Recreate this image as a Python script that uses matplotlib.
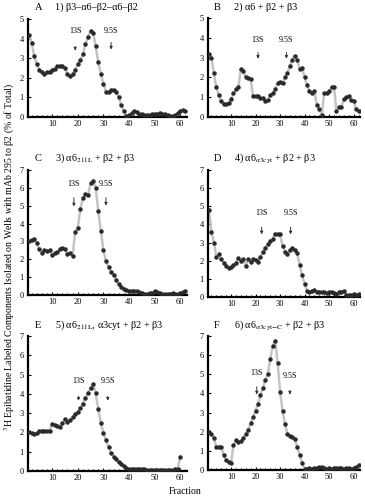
import numpy as np
import matplotlib
matplotlib.use('Agg')
import matplotlib.pyplot as plt
from matplotlib.ticker import MultipleLocator

plt.rcParams['font.family'] = ['Liberation Serif', 'DejaVu Serif']
plt.rcParams['mathtext.fontset'] = 'stix'

# values (% of total), fraction 1, 2, 3, ...
panel_a = [4.2, 3.8, 3.1, 2.7, 2.4, 2.3, 2.2, 2.3, 2.3, 2.4, 2.45, 2.6, 2.6, 2.6, 2.5,
           2.2, 2.1, 2.2, 2.4, 2.7, 2.9, 3.2, 3.7, 4.1, 4.4, 4.3, 3.6, 2.8, 2.2, 1.7,
           1.3, 1.3, 1.4, 1.4, 1.3, 1.0, 0.6, 0.3, 0.05, 0.1, 0.2, 0.3, 0.25, 0.15, 0.15,
           0.1, 0.1, 0.1, 0.15, 0.15, 0.15, 0.2, 0.15, 0.15, 0.1, 0.05, 0.05, 0.1, 0.2, 0.3,
           0.35, 0.3]
panel_b = [3.2, 3.0, 2.2, 1.5, 1.1, 0.8, 0.65, 0.65, 0.7, 0.9, 1.2, 1.4, 1.5, 2.4, 2.3,
           2.0, 1.95, 1.9, 1.05, 1.05, 1.05, 0.95, 0.95, 0.8, 0.85, 1.1, 1.2, 1.4, 1.7, 1.75,
           1.7, 2.0, 2.2, 2.6, 2.9, 3.1, 2.9, 2.4, 2.5, 2.0, 1.6, 1.3, 1.2, 1.3, 0.6,
           0.4, 0.1, 1.2, 1.2, 1.3, 1.5, 1.5, 0.3, 0.5, 0.5, 0.9, 1.0, 1.05, 0.85, 0.8,
           0.4, 0.3]
panel_c = [3.0, 3.1, 3.15, 2.9, 2.55, 2.35, 2.5, 2.45, 2.5, 2.25, 2.35, 2.4, 2.6, 2.65, 2.6,
           2.3, 2.35, 2.2, 3.55, 3.75, 4.8, 5.45, 5.65, 5.6, 6.25, 6.4, 6.0, 4.7, 3.6, 2.5,
           1.9, 1.55, 1.3, 1.1, 0.85, 0.6, 0.45, 0.35, 0.3, 0.25, 0.25, 0.2, 0.2, 0.15, 0.1,
           0.05, 0.05, 0.1, 0.1, 0.2, 0.15, 0.1, 0.05, 0.05, 0.05, 0.05, 0.1, 0.05, 0.05, 0.1,
           0.15, 0.2]
panel_d = [4.8, 3.6, 3.0, 2.2, 2.35, 2.1, 1.9, 1.7, 1.6, 1.65, 1.75, 1.9, 2.15, 2.0, 2.1,
           1.7, 2.1, 1.95, 2.1, 2.05, 1.95, 2.2, 2.5, 2.7, 2.9, 3.1, 3.2, 3.5, 3.45, 3.45,
           2.8, 2.5, 2.35, 2.6, 2.7, 2.6, 2.4, 1.75, 1.2, 0.7, 0.35, 0.3, 0.35, 0.4, 0.3,
           0.3, 0.25, 0.25, 0.2, 0.25, 0.3, 0.2, 0.15, 0.25, 0.3, 0.35, 0.1, 0.1, 0.1, 0.15,
           0.1, 0.15]
panel_e = [2.0, 1.95, 1.9, 1.95, 2.05, 2.1, 2.1, 2.05, 2.1, 2.45, 2.4, 2.35, 2.3, 2.5, 2.7,
           2.55, 2.65, 2.8, 2.95, 3.05, 3.25, 3.5, 3.8, 4.05, 4.3, 4.5, 4.05, 3.2, 2.5, 1.95,
           1.6, 1.25, 0.95, 0.75, 0.6, 0.45, 0.35, 0.25, 0.15, 0.1, 0.1, 0.1, 0.1, 0.1, 0.1,
           0.1, 0.05, 0.05, 0.05, 0.05, 0.05, 0.05, 0.05, 0.05, 0.05, 0.05, 0.05, 0.1, 0.1, 0.75]
panel_f = [2.0, 1.9, 1.65, 1.2, 1.2, 1.2, 0.8, 0.5, 0.4, 0.35, 1.3, 1.55, 1.45, 1.5, 1.65,
           1.9, 2.1, 2.45, 2.75, 3.1, 3.45, 3.9, 4.3, 4.7, 5.0, 5.8, 6.5, 6.75, 5.6, 4.1,
           3.1, 2.4, 1.9, 1.8, 1.75, 1.6, 1.2, 0.8, 0.35, 0.05, 0.05, 0.1, 0.05, 0.1, 0.1,
           0.15, 0.15, 0.1, 0.05, 0.1, 0.05, 0.1, 0.1, 0.1, 0.1, 0.05, 0.1, 0.1, 0.05, 0.1,
           0.15, 0.25]

letters = ['A', 'B', 'C', 'D', 'E', 'F']
titles = ['1) β3–α6–β2–α6–β2',
          '2) α6 + β2 + β3',
          r'3) α6$_{\mathrm{211L}}$ + β2 + β3',
          r'4) α6$_{\alpha\mathrm{3cyt}}$ + β2 + β3',
          r'5) α6$_{\mathrm{211L}}$, α3cyt + β2 + β3',
          r'6) α6$_{\alpha\mathrm{3cyt{-}C}}$ + β2 + β3']
ymax = [5, 5, 7, 7, 7, 7]
# sedimentation markers: (fraction, text height, arrow top, arrow tip)
mark_13s = [(19, 4.2, 3.6, 3.4), (21, 3.7, 3.4, 2.8), (18.5, 6.0, 5.6, 4.8),
            (22.5, 4.4, 4.0, 3.3), (20.3, 4.45, 4.0, 3.5), (20.5, 4.85, 4.5, 3.8)]
mark_95s = [(33, 4.2, 3.95, 3.3), (32.6, 3.7, 3.4, 2.8), (31, 6.0, 5.6, 4.85),
            (34.3, 4.4, 4.0, 3.3), (31.7, 4.45, 4.0, 3.5), (34, 4.7, 4.15, 3.95)]

W, H = 365, 500
# axes boxes in pixels: left, top, width, height
boxes = [(28, 19, 159, 98), (208, 18, 152, 99),
         (28, 170, 159, 125), (208, 170, 152, 127),
         (28, 336, 159, 135), (208, 336, 152, 134)]
title_y = [7, 7, 158, 158, 325, 325]

fig = plt.figure(figsize=(3.65, 5), dpi=100)
series = [panel_a, panel_b, panel_c, panel_d, panel_e, panel_f]

for i, vals in enumerate(series):
    l, t, w, h = boxes[i]
    ax = fig.add_axes([l / W, 1 - (t + h) / H, w / W, h / H])
    frac = np.arange(1, len(vals) + 1)
    ax.plot(frac, vals, color='#c4c4c4', lw=1.8, zorder=2)
    ax.plot(frac, vals, ls='none', marker='o', ms=2.2, color='#2a2a2a', zorder=3)
    ax.set_xlim(0.6, 62.6)
    ax.set_ylim(0, ymax[i])
    ax.xaxis.set_major_locator(MultipleLocator(10))
    ax.xaxis.set_minor_locator(MultipleLocator(2))
    ax.yaxis.set_major_locator(MultipleLocator(1))
    for s in ['top', 'right']:
        ax.spines[s].set_visible(False)
    for s in ['left', 'bottom']:
        ax.spines[s].set_linewidth(1.6)
    ax.tick_params(which='both', direction='in', labelsize=6, width=0.8, pad=2)
    ax.tick_params(which='major', length=2.5)
    ax.tick_params(which='minor', length=1.5)
    ax.tick_params(axis='y', pad=3)
    ax.set_xticklabels(['' if v == 0 else str(int(v)) for v in ax.get_xticks()])

    for (x, ty, a0, a1), lab in [(mark_13s[i], '13S'), (mark_95s[i], '9.5S')]:
        ax.text(x, ty, lab, fontsize=5.8, ha='center', va='bottom')
        ax.annotate('', xy=(x, a1), xytext=(x, a0),
                    arrowprops=dict(arrowstyle='-|>', color='#333333', lw=0.7,
                                    mutation_scale=4))

    lx = 35 if i % 2 == 0 else 214
    fig.text(lx / W, 1 - title_y[i] / H, letters[i], fontsize=7.5, va='center')
    fig.text((lx + 20) / W, 1 - title_y[i] / H, titles[i], fontsize=7.3, va='center')

fig.text(10 / W, 1 - 257 / H,
         r'$^{3}$H Epibatidine Labeled Components Isolated on Wells with mAb 295 to β2 (% of Total)',
         rotation=90, fontsize=7, ha='center', va='center')
fig.text(185 / W, 1 - 492 / H, 'Fraction', fontsize=7, ha='center', va='center')

fig.savefig('out.png', dpi=100)
